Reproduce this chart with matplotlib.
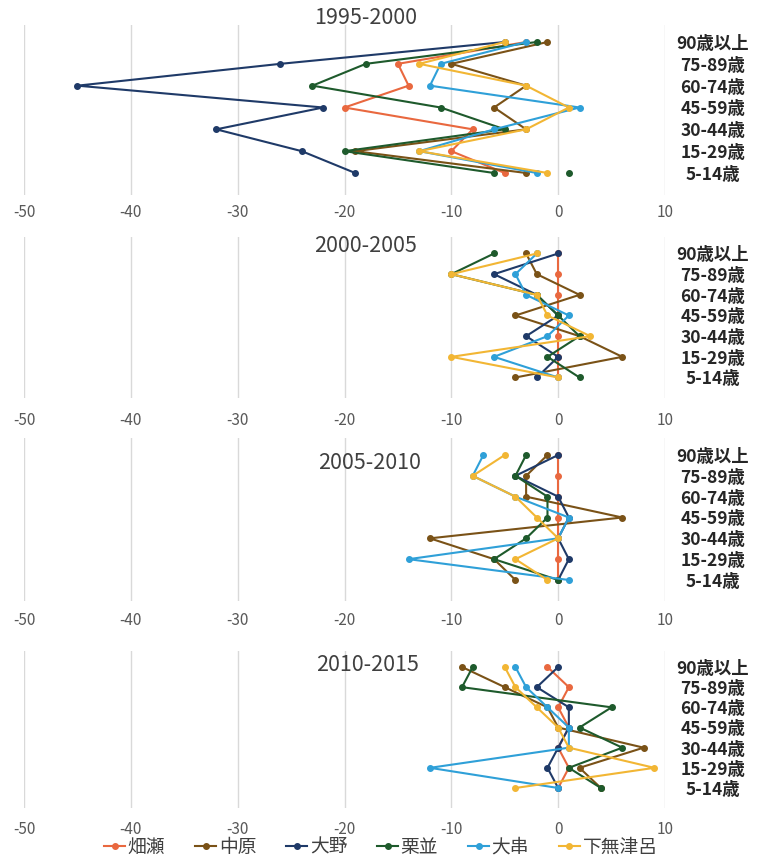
import numpy as np
import matplotlib
matplotlib.use("Agg")
import matplotlib.pyplot as plt
from matplotlib.lines import Line2D

plt.rcParams['font.family'] = ['Noto Sans CJK JP', 'DejaVu Sans']

# Age groups, listed top (90+) to bottom (5-14)
ages = ["90歳以上", "75-89歳", "60-74歳", "45-59歳", "30-44歳", "15-29歳", "5-14歳"]
series_names = ["畑瀬", "中原", "大野", "栗並", "大串", "下無津呂"]
colors = ["#E9683F", "#7A5217", "#1F3A68", "#1E5A2C", "#2FA0D8", "#F2B634"]

periods = ["1995-2000", "2000-2005", "2005-2010", "2010-2015"]

v1995_2000 = {
    "畑瀬":   [-3, -15, -14, -20, -8, -10, -5],
    "中原":   [-1, -10, -3, -6, -3, -19, -3],
    "大野":   [-5, -26, -45, -22, -32, -24, -19],
    "栗並":   [-2, -18, -23, -11, -5, -20, -6],
    "大串":   [-3, -11, -12, 2, -6, -13, -2],
    "下無津呂": [-5, -13, -3, 1, -3, -13, -1],
}
# isolated extra 栗並 marker in the first period
kurinami_extra_1995 = [np.nan, np.nan, np.nan, np.nan, np.nan, np.nan, 1]

v2000_2005 = {
    "畑瀬":   [0, 0, 0, 0, 0, 0, 0],
    "中原":   [-3, -2, 2, -4, 2, 6, -4],
    "大野":   [0, -6, -2, 0, -3, 0, -2],
    "栗並":   [-6, -10, -2, 0, 2, -1, 2],
    "大串":   [-2, -4, -3, 1, -1, -6, 0],
    "下無津呂": [-2, -10, -2, -1, 3, -10, 0],
}
v2005_2010 = {
    "畑瀬":   [0, 0, 0, 0, 0, 0, 0],
    "中原":   [-1, -3, -3, 6, -12, -6, -4],
    "大野":   [0, -4, 0, 1, 0, 1, 0],
    "栗並":   [-3, -4, -1, -1, -3, -6, 0],
    "大串":   [-7, -8, -4, 1, 0, -14, 1],
    "下無津呂": [-5, -8, -4, -2, 0, -4, -1],
}
v2010_2015 = {
    "畑瀬":   [-1, 1, 0, 1, 0, 1, 0],
    "中原":   [-9, -5, -1, 0, 8, 2, 4],
    "大野":   [0, -2, 1, 1, 0, -1, 0],
    "栗並":   [-8, -9, 5, 2, 6, 1, 4],
    "大串":   [-4, -3, -1, 1, 1, -12, 0],
    "下無津呂": [-5, -4, -2, 0, 1, 9, -4],
}
all_data = [v1995_2000, v2000_2005, v2005_2010, v2010_2015]

xticks = [-50, -40, -30, -20, -10, 0, 10]

W, H = 763, 859
fig = plt.figure(figsize=(W / 100, H / 100), dpi=100)

# (row y of 90+, row y of 5-14) in pixels, title y, title x, tick pad px
layout = [
    (42, 173, 18, 366, 9),
    (253.5, 377.5, 246, 366, 14),
    (455, 580, 463, 370, 11),
    (667, 788, 665, 368, 13),
]
x_left, x_right = 24, 665
ytop_pad, ybot_pad = 0.8, 1.0

ypos = [6 - i for i in range(len(ages))]

for k, (data, per, lay) in enumerate(zip(all_data, periods, layout)):
    y90, y5, ty, tx, tpad = lay
    s = (y5 - y90) / 6.0
    top = y90 - ytop_pad * s
    bot = y5 + ybot_pad * s
    ax = fig.add_axes([x_left / W, 1 - bot / H, (x_right - x_left) / W, (bot - top) / H])
    ax.set_xlim(-50, 10)
    ax.set_ylim(-ybot_pad, 6 + ytop_pad)
    ax.set_xticks(xticks)
    ax.set_xticklabels([str(t) for t in xticks], fontsize=11, color="#595959")
    ax.tick_params(axis='x', length=0, pad=tpad * 0.72)
    ax.grid(axis='x', color="#D9D9D9", linewidth=1.0)
    ax.set_axisbelow(True)
    for sp in ax.spines.values():
        sp.set_visible(False)
    ax.yaxis.tick_right()
    ax.set_yticks(ypos)
    ax.set_yticklabels(ages, fontsize=12.5, color="#262626", fontweight='bold')
    ax.tick_params(axis='y', length=0, pad=48 * 0.72)
    for lab in ax.get_yticklabels():
        lab.set_horizontalalignment('center')

    for name, col in zip(series_names, colors):
        ax.plot(data[name], ypos, color=col, linewidth=1.5, marker='o',
                markersize=4, solid_joinstyle='round', zorder=3)
    if k == 0:
        ax.plot(kurinami_extra_1995, ypos, color=colors[3], linestyle='none',
                marker='o', markersize=4, zorder=3)

    fig.text(tx / W, 1 - ty / H, per, ha='center', va='center',
             fontsize=15.5, color="#404040")

handles = [Line2D([0], [0], color=c, marker='o', markersize=4, linewidth=1.5)
           for c in colors]
fig.legend(handles, series_names, loc='center', ncol=6,
           bbox_to_anchor=(381 / W, 1 - 847 / H), frameon=False,
           fontsize=13.5, handlelength=1.1, handletextpad=0.15,
           columnspacing=1.6, labelcolor="#404040",
           borderpad=0.1)

fig.savefig("out.png", dpi=100)
